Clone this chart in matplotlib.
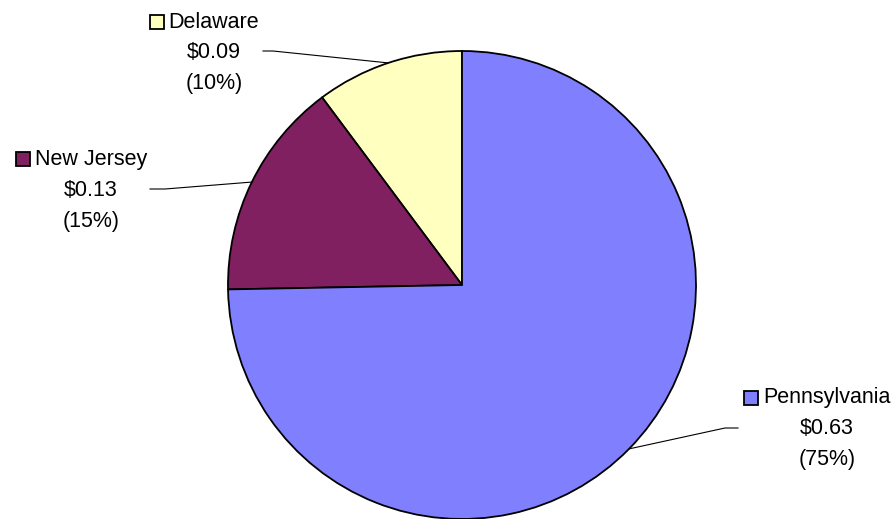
import numpy as np
import matplotlib
matplotlib.use("Agg")
import matplotlib.pyplot as plt
from matplotlib.patches import Rectangle

plt.rcParams['font.family'] = ['Liberation Sans Narrow', 'Liberation Sans', 'DejaVu Sans']

# data (counter-clockwise from the top)
states = ["Delaware", "New Jersey", "Pennsylvania"]
dollars = ["$0.09", "$0.13", "$0.63"]
pct_labels = ["(10%)", "(15%)", "(75%)"]
shares = [10.2, 15.1, 74.7]
colors = ["#FFFFC0", "#802060", "#8080FF"]

W, H = 896, 519
fig = plt.figure(figsize=(W / 100, H / 100), dpi=100)
ax = fig.add_axes([0, 0, 1, 1])

cx, cy, r = 462, H - 285, 234
wedges, _ = ax.pie(shares, colors=colors, startangle=90, counterclock=True,
                   center=(cx, cy), radius=r, frame=True,
                   wedgeprops=dict(edgecolor="black", linewidth=1.3))
ax.set_xlim(0, W)
ax.set_ylim(0, H)
ax.set_aspect("equal")
ax.axis("off")

# label block centre (x, y of first line, in pixels from top) and leader start
label_pos = [(214, 22), (91, 159), (827, 398)]
leader_start = [(263, 51, 273), (150, 189, 165), (738, 428, 725)]
fs = 15.5
line_gap = 31

fig.canvas.draw()
renderer = fig.canvas.get_renderer()

for i, w in enumerate(wedges):
    lx, ly = label_pos[i]
    t = ax.text(lx, H - ly, states[i], ha="center", va="center", fontsize=fs)
    ax.text(lx, H - ly - line_gap, dollars[i], ha="center", va="center", fontsize=fs)
    ax.text(lx, H - ly - 2 * line_gap, pct_labels[i], ha="center", va="center", fontsize=fs)
    bb = t.get_window_extent(renderer=renderer)
    sq = 14
    ax.add_patch(Rectangle((bb.x0 - 5 - sq, H - ly - sq / 2), sq, sq,
                           facecolor=colors[i], edgecolor="black", linewidth=1.3))

    # leader line ends on the arc at the wedge's middle angle
    mid = np.deg2rad((w.theta1 + w.theta2) / 2)
    ex, ey = cx + r * np.cos(mid), cy + r * np.sin(mid)
    sx, sy, kx = leader_start[i]
    ax.plot([sx, kx, ex], [H - sy, H - sy, ey], color="black", linewidth=0.8)

fig.savefig("out.png", dpi=100)
